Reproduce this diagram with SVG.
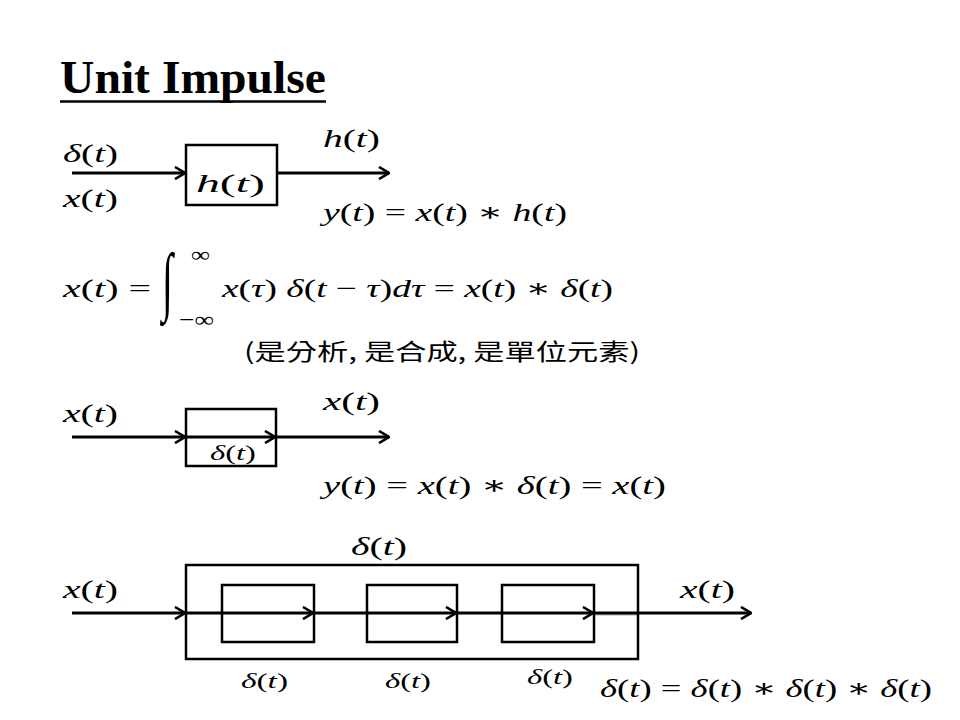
<svg xmlns="http://www.w3.org/2000/svg" width="960" height="720" viewBox="0 0 960 720">
<defs>
<style>
.t{font-family:"Liberation Serif","Times New Roman",serif;font-weight:bold;font-size:46px;fill:#000}
.m{font-family:"Liberation Serif","DejaVu Serif",serif;font-size:26px;fill:#000}
.i{font-style:italic}
.s{font-size:22px}
.box{fill:none;stroke:#000;stroke-width:2.5}
.ln{fill:none;stroke:#000;stroke-width:3}
.cjk{font-family:"Noto Sans CJK TC","Noto Sans CJK SC",sans-serif;font-size:23px;fill:#000}
</style>
<marker id="ah" viewBox="0 0 12 14" refX="11" refY="7" markerWidth="12" markerHeight="14" markerUnits="userSpaceOnUse" orient="auto">
<polyline points="1,1 11,7 1,13" fill="none" stroke="#000" stroke-width="2.6" stroke-linejoin="miter"/>
</marker>
</defs>
<rect width="960" height="720" fill="#fff"/>
<g id="title">
<text class="t" x="60" y="93" textLength="266" lengthAdjust="spacingAndGlyphs">Unit Impulse</text>
<line x1="60" y1="101.5" x2="326" y2="101.5" stroke="#000" stroke-width="2.5"/>
</g>
<g id="connectors">
<line class="ln" x1="72" y1="173" x2="185" y2="173" marker-end="url(#ah)"/>
<line class="ln" x1="277" y1="173" x2="389" y2="173" marker-end="url(#ah)"/>
<line class="ln" x1="72" y1="437" x2="185" y2="437" marker-end="url(#ah)"/>
<line class="ln" x1="186" y1="437" x2="275" y2="437" marker-end="url(#ah)"/>
<line class="ln" x1="276" y1="437" x2="389" y2="437" marker-end="url(#ah)"/>
<line class="ln" x1="72" y1="613" x2="185" y2="613" marker-end="url(#ah)"/>
<line class="ln" x1="186" y1="613" x2="313" y2="613" marker-end="url(#ah)"/>
<line class="ln" x1="314" y1="613" x2="456" y2="613" marker-end="url(#ah)"/>
<line class="ln" x1="457" y1="613" x2="593" y2="613" marker-end="url(#ah)"/>
<line x1="594" y1="614" x2="638" y2="614" stroke="#888" stroke-width="3" opacity="0.6"/>
<line class="ln" x1="594" y1="613" x2="751" y2="613" marker-end="url(#ah)"/>
</g>
<g id="row1">
<text class="m" x="63" y="162" textLength="55" lengthAdjust="spacingAndGlyphs"><tspan class="i">δ</tspan>(<tspan class="i">t</tspan>)</text>
<text class="m" x="63" y="207" textLength="55" lengthAdjust="spacingAndGlyphs"><tspan class="i">x</tspan>(<tspan class="i">t</tspan>)</text>
<g id="hbox">
<rect class="box" x="186" y="145" width="91" height="60"/>
<text class="m" x="196" y="192" font-size="32" textLength="69" lengthAdjust="spacingAndGlyphs"><tspan class="i">h</tspan>(<tspan class="i">t</tspan>)</text>
</g>
<text class="m" x="323" y="147" textLength="57" lengthAdjust="spacingAndGlyphs"><tspan class="i">h</tspan>(<tspan class="i">t</tspan>)</text>
<text class="m" x="323" y="221" textLength="244" lengthAdjust="spacingAndGlyphs"><tspan class="i">y</tspan>(<tspan class="i">t</tspan>) = <tspan class="i">x</tspan>(<tspan class="i">t</tspan>) ∗ <tspan class="i">h</tspan>(<tspan class="i">t</tspan>)</text>
</g>
<g id="integral">
<text class="m" x="63" y="297" textLength="88" lengthAdjust="spacingAndGlyphs"><tspan class="i">x</tspan>(<tspan class="i">t</tspan>) =</text>
<text transform="translate(162,306) scale(1,1.9)" font-family="'Liberation Serif',serif" font-size="40">∫</text>
<text class="m" x="191" y="262" style="font-size:22px" textLength="19" lengthAdjust="spacingAndGlyphs">∞</text>
<text class="m" x="179" y="327" style="font-size:22px" textLength="35" lengthAdjust="spacingAndGlyphs">−∞</text>
<text class="m" x="222" y="297" textLength="391" lengthAdjust="spacingAndGlyphs"><tspan class="i">x</tspan>(<tspan class="i">τ</tspan>) <tspan class="i">δ</tspan>(<tspan class="i">t</tspan> − <tspan class="i">τ</tspan>)<tspan class="i">dτ</tspan> = <tspan class="i">x</tspan>(<tspan class="i">t</tspan>) ∗ <tspan class="i">δ</tspan>(<tspan class="i">t</tspan>)</text>
<text class="cjk" x="244" y="360" textLength="396" lengthAdjust="spacingAndGlyphs">(是分析, 是合成, 是單位元素)</text>
</g>
<g id="row2">
<text class="m" x="63" y="422" textLength="55" lengthAdjust="spacingAndGlyphs"><tspan class="i">x</tspan>(<tspan class="i">t</tspan>)</text>
<g id="dbox">
<rect class="box" x="186" y="409" width="90" height="57"/>
<text class="m s" x="210" y="460" textLength="46" lengthAdjust="spacingAndGlyphs"><tspan class="i">δ</tspan>(<tspan class="i">t</tspan>)</text>
</g>
<text class="m" x="323" y="410" textLength="57" lengthAdjust="spacingAndGlyphs"><tspan class="i">x</tspan>(<tspan class="i">t</tspan>)</text>
<text class="m" x="323" y="494" textLength="343" lengthAdjust="spacingAndGlyphs"><tspan class="i">y</tspan>(<tspan class="i">t</tspan>) = <tspan class="i">x</tspan>(<tspan class="i">t</tspan>) ∗ <tspan class="i">δ</tspan>(<tspan class="i">t</tspan>) = <tspan class="i">x</tspan>(<tspan class="i">t</tspan>)</text>
</g>
<g id="row3">
<text class="m" x="351" y="555" textLength="56" lengthAdjust="spacingAndGlyphs"><tspan class="i">δ</tspan>(<tspan class="i">t</tspan>)</text>
<text class="m" x="63" y="598" textLength="55" lengthAdjust="spacingAndGlyphs"><tspan class="i">x</tspan>(<tspan class="i">t</tspan>)</text>
<g id="outer"><rect class="box" x="186" y="565" width="452" height="94"/></g>
<g id="d1"><rect class="box" x="222" y="585" width="92" height="57"/>
<text class="m s" x="241" y="688" textLength="47" lengthAdjust="spacingAndGlyphs"><tspan class="i">δ</tspan>(<tspan class="i">t</tspan>)</text></g>
<g id="d2"><rect class="box" x="367" y="585" width="90" height="57"/>
<text class="m s" x="385" y="688" textLength="46" lengthAdjust="spacingAndGlyphs"><tspan class="i">δ</tspan>(<tspan class="i">t</tspan>)</text></g>
<g id="d3"><rect class="box" x="502" y="585" width="92" height="57"/>
<text class="m s" x="527" y="684" textLength="46" lengthAdjust="spacingAndGlyphs"><tspan class="i">δ</tspan>(<tspan class="i">t</tspan>)</text></g>
<text class="m" x="680" y="598" textLength="55" lengthAdjust="spacingAndGlyphs"><tspan class="i">x</tspan>(<tspan class="i">t</tspan>)</text>
<text class="m" x="600" y="697" textLength="332" lengthAdjust="spacingAndGlyphs"><tspan class="i">δ</tspan>(<tspan class="i">t</tspan>) = <tspan class="i">δ</tspan>(<tspan class="i">t</tspan>) ∗ <tspan class="i">δ</tspan>(<tspan class="i">t</tspan>) ∗ <tspan class="i">δ</tspan>(<tspan class="i">t</tspan>)</text>
</g>
</svg>
